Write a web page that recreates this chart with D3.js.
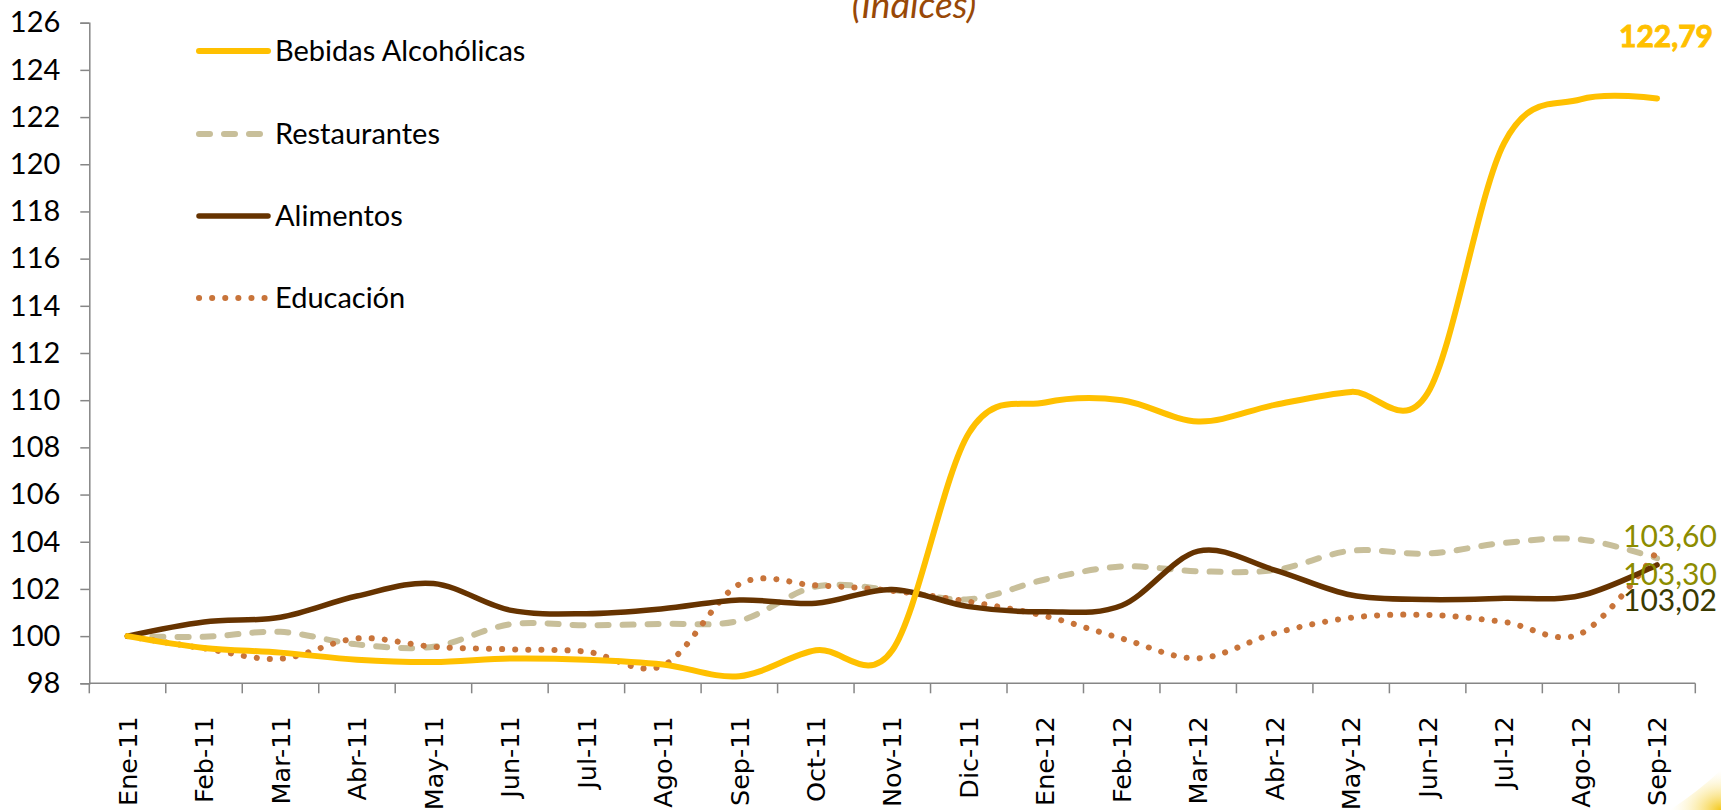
<!DOCTYPE html>
<html>
<head>
<meta charset="utf-8">
<script src="https://cdn.jsdelivr.net/npm/d3@7"></script>
<style>
  body { margin: 0; background: #fff; overflow: hidden; }
  svg { display: block; }
</style>
</head>
<body>
<main></main>
<script>
const months = ["Ene-11","Feb-11","Mar-11","Abr-11","May-11","Jun-11","Jul-11","Ago-11","Sep-11","Oct-11","Nov-11",
                "Dic-11","Ene-12","Feb-12","Mar-12","Abr-12","May-12","Jun-12","Jul-12","Ago-12","Sep-12"];
const bebidas     = [100, 99.5, 99.3, 99.0, 98.9, 99.05, 99.0, 98.8, 98.3, 99.4, 99.4, 108.6, 109.9, 110.0, 109.1, 109.8, 110.35, 110.3, 120.9, 122.75, 122.79];
const restaurantes = [100, 99.97, 100.18, 99.65, 99.55, 100.5, 100.46, 100.52, 100.65, 102.1, 101.95, 101.56, 102.4, 102.95, 102.75, 102.8, 103.62, 103.5, 103.95, 104.1, 103.30];
const alimentos   = [100, 100.6, 100.8, 101.7, 102.23, 101.1, 100.95, 101.16, 101.53, 101.39, 101.98, 101.25, 101.03, 101.3, 103.6, 102.8, 101.74, 101.55, 101.6, 101.72, 103.02];
const educacion   = [100, 99.48, 99.04, 99.9, 99.55, 99.44, 99.34, 98.75, 102.2, 102.15, 101.92, 101.46, 100.85, 99.9, 99.06, 100.12, 100.78, 100.9, 100.6, 100.1, 103.60];
const yTicks = [98,100,102,104,106,108,110,112,114,116,118,120,122,124,126];
const endLabels = ["122,79","103,60","103,30","103,02"];

const w = 1721, h = 810;
const padLeft = 89.3, padRight = 1695.3, padTop = 22.7, padBottom = 683.3;

const svg = d3.select("main").append("svg").attr("width", w).attr("height", h);

const x = d3.scaleBand().domain(months).range([padLeft, padRight]).padding(0);
const y = d3.scaleLinear().domain([98, 126]).range([padBottom, padTop]);
const cx = d => x(d) + x.bandwidth() / 2;

// background swoosh, bottom right
const defs = svg.append("defs");
const grad = defs.append("radialGradient").attr("id", "glow").attr("cx", "100%").attr("cy", "100%").attr("r", "100%");
grad.append("stop").attr("offset", "0%").attr("stop-color", "#f2c200").attr("stop-opacity", 0.9);
grad.append("stop").attr("offset", "100%").attr("stop-color", "#fff6c8").attr("stop-opacity", 0);
svg.append("path").attr("d", "M1670,810 Q1700,790 1721,770 L1721,810 Z").attr("fill", "url(#glow)");

// title (cut at top)
svg.append("text")
  .attr("x", 914).attr("y", 18)
  .attr("text-anchor", "middle")
  .style("font-family", "Lato, 'Open Sans', sans-serif")
  .style("font-style", "italic")
  .style("font-size", "37px")
  .attr("fill", "#984807")
  .text("(Índices)");

// y axis
const yAxis = svg.append("g")
  .attr("transform", "translate(" + padLeft + ",0)")
  .call(d3.axisLeft(y).tickValues(yTicks).tickSize(9).tickPadding(20).tickFormat(d3.format("d")));
yAxis.select(".domain").attr("stroke", "#868686").attr("stroke-width", 1.5);
yAxis.selectAll(".tick line").attr("stroke", "#868686").attr("stroke-width", 1.5);
yAxis.selectAll(".tick text")
  .style("font-family", "Lato, 'Open Sans', sans-serif")
  .style("font-size", "29px")
  .attr("fill", "#000");

// x axis
const xAxis = svg.append("g")
  .attr("transform", "translate(0," + padBottom + ")")
  .call(d3.axisBottom(x).tickSize(0).tickPadding(0));
xAxis.select(".domain").attr("stroke", "#868686").attr("stroke-width", 1.5).attr("d", "M" + padLeft + ",0H" + padRight);
xAxis.selectAll(".tick text")
  .attr("transform", "rotate(-90)")
  .attr("x", -33).attr("y", 0).attr("dy", "0.36em")
  .attr("text-anchor", "end")
  .style("font-family", "'DejaVu Sans', Verdana, sans-serif")
  .style("font-size", "25.5px")
  .attr("fill", "#000");
xAxis.selectAll(".boundary")
  .data(months.concat(["end"]))
  .enter().append("line")
  .attr("class", "boundary")
  .attr("x1", d => d === "end" ? padRight : x(d))
  .attr("x2", d => d === "end" ? padRight : x(d))
  .attr("y1", 0).attr("y2", 10)
  .attr("stroke", "#868686").attr("stroke-width", 1.5);

// series
const series = [
  {name: "Bebidas Alcohólicas", values: bebidas, color: "#FFC000", width: 6, dash: null},
  {name: "Restaurantes", values: restaurantes, color: "#C8BF9A", width: 6, dash: "11,14"},
  {name: "Alimentos", values: alimentos, color: "#663300", width: 5.5, dash: null},
  {name: "Educación", values: educacion, color: "#C8743A", width: 6, dash: "0.1,13"}
];
const line = d3.line()
  .x((d, i) => cx(months[i]))
  .y(d => y(d))
  .curve(d3.curveCardinal.tension(0));

const drawOrder = [1, 3, 2, 0];
svg.append("g").selectAll("path")
  .data(drawOrder.map(i => series[i]))
  .enter().append("path")
  .attr("d", d => line(d.values))
  .attr("fill", "none")
  .attr("stroke", d => d.color)
  .attr("stroke-width", d => d.width)
  .attr("stroke-linecap", "round")
  .attr("stroke-linejoin", "round")
  .attr("stroke-dasharray", d => d.dash);

// legend
const legendY = [51, 134, 216, 298];
const legend = svg.append("g").selectAll("g")
  .data(series)
  .enter().append("g")
  .attr("transform", (d, i) => "translate(0," + legendY[i] + ")");
legend.append("line")
  .attr("x1", 199).attr("x2", 268)
  .attr("stroke", d => d.color)
  .attr("stroke-width", d => d.width)
  .attr("stroke-linecap", "round")
  .attr("stroke-dasharray", d => d.dash);
legend.append("text")
  .attr("x", 275).attr("dy", "0.35em")
  .style("font-family", "Lato, 'Open Sans', sans-serif")
  .style("font-size", "29px")
  .attr("fill", "#000")
  .text(d => d.name);

// end labels
const labelPos = [
  {x: 1619, y: 36, color: "#FFC000", weight: "bold", stroke: 0.9},
  {x: 1623, y: 536, color: "#8C8C00", weight: "normal", stroke: 0},
  {x: 1623, y: 574, color: "#8C8C00", weight: "normal", stroke: 0},
  {x: 1623, y: 600, color: "#3A3A00", weight: "normal", stroke: 0}
];
svg.append("g").selectAll("text")
  .data(endLabels)
  .enter().append("text")
  .attr("x", (d, i) => labelPos[i].x)
  .attr("y", (d, i) => labelPos[i].y)
  .attr("dy", "0.35em")
  .style("font-family", "Lato, 'Open Sans', sans-serif")
  .style("font-size", "30px")
  .style("font-weight", (d, i) => labelPos[i].weight)
  .attr("fill", (d, i) => labelPos[i].color)
  .attr("stroke", (d, i) => labelPos[i].stroke ? labelPos[i].color : "none")
  .attr("stroke-width", (d, i) => labelPos[i].stroke)
  .text(d => d);
</script>
</body>
</html>
